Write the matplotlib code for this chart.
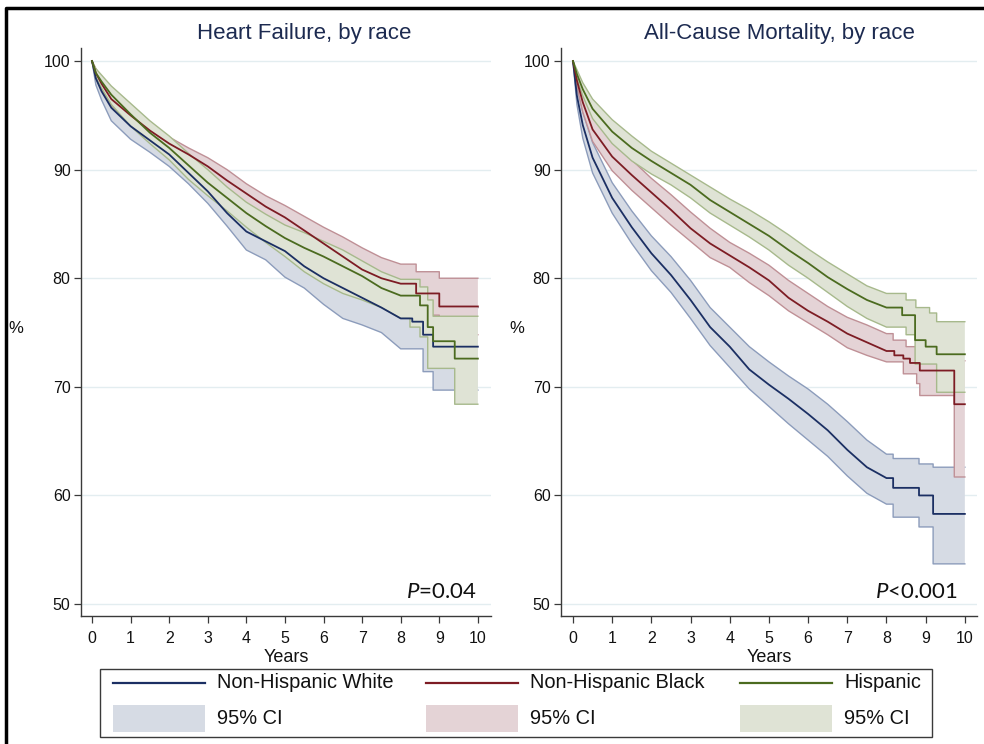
import numpy as np
import matplotlib.pyplot as plt
from matplotlib.lines import Line2D
from matplotlib.patches import Rectangle

plt.rcParams['font.family'] = ['Liberation Sans', 'DejaVu Sans']
plt.rcParams['mathtext.fontset'] = 'custom'
plt.rcParams['mathtext.it'] = 'Lato:italic'
plt.rcParams['mathtext.rm'] = 'Lato'

# common time grid (years); after 8 years each curve continues as explicit KM steps
years = [0, 0.1, 0.25, 0.5, 1, 1.5, 2, 2.5, 3, 3.5, 4, 4.5, 5, 5.5, 6, 6.5, 7, 7.5, 8]

# ---- Heart failure ----
hf_white = [100, 98.4, 97.2, 95.7, 94.0, 92.7, 91.4, 89.7, 88.0, 86.0, 84.3, 83.4, 82.5, 81.1, 80.0, 79.1, 78.2, 77.3, 76.3]
hf_white_tail = [(8.3, 76.0), (8.58, 74.8), (8.84, 73.7)]
hf_white_lo = [100, 97.8, 96.4, 94.5, 92.8, 91.6, 90.3, 88.7, 86.9, 84.8, 82.6, 81.7, 80.1, 79.1, 77.6, 76.3, 75.7, 75.0, 73.5]
hf_white_lo_tail = [(8.58, 71.4), (8.84, 69.7)]
hf_white_hi = [100, 99.0, 98.0, 96.8, 95.1, 93.8, 92.5, 90.8, 89.2, 87.3, 85.9, 85.1, 84.3, 83.0, 82.2, 81.2, 80.6, 79.7, 79.0]
hf_white_hi_tail = [(8.58, 78.0), (8.84, 77.3)]

hf_black = [100, 98.9, 97.9, 96.5, 95.0, 93.6, 92.4, 91.4, 90.3, 89.0, 87.8, 86.6, 85.6, 84.4, 83.2, 82.0, 80.8, 80.0, 79.5]
hf_black_tail = [(8.4, 78.6), (9.0, 77.4)]
hf_black_hi = [100, 99.3, 98.5, 97.1, 95.8, 94.4, 93.0, 92.0, 91.1, 90.0, 88.7, 87.6, 86.7, 85.7, 84.7, 83.8, 82.8, 81.9, 81.3]
hf_black_hi_tail = [(8.4, 80.6), (9.0, 80.0)]
hf_black_lo = [100, 98.5, 97.3, 95.9, 94.2, 92.8, 91.8, 90.8, 89.5, 88.0, 86.9, 85.6, 84.5, 83.1, 81.7, 80.2, 78.8, 78.1, 77.7]
hf_black_lo_tail = [(8.4, 76.6), (9.0, 74.8)]

hf_hisp = [100, 98.9, 98.1, 96.9, 95.1, 93.4, 92.0, 90.4, 88.8, 87.4, 86.0, 84.8, 83.7, 82.8, 82.0, 81.1, 80.2, 79.1, 78.4]
hf_hisp_tail = [(8.5, 77.5), (8.7, 75.5), (8.84, 74.2), (9.4, 72.6)]
hf_hisp_hi = [100, 99.3, 98.7, 97.7, 96.1, 94.5, 93.1, 91.5, 90.0, 88.4, 87.0, 85.9, 84.9, 84.2, 83.4, 82.6, 81.6, 80.6, 79.9]
hf_hisp_hi_tail = [(8.5, 79.2), (8.7, 78.0), (8.84, 76.5)]
hf_hisp_lo = [100, 98.5, 97.5, 96.0, 94.0, 92.4, 90.9, 89.1, 87.6, 86.2, 84.7, 83.3, 82.0, 80.6, 79.5, 78.6, 78.0, 77.3, 76.3]
hf_hisp_lo_tail = [(8.24, 75.5), (8.5, 74.6), (8.7, 71.7), (9.4, 68.4)]

# ---- All-cause mortality ----
acm_white = [100, 96.8, 94.1, 91.1, 87.4, 84.7, 82.3, 80.3, 78.0, 75.5, 73.7, 71.6, 70.2, 68.9, 67.5, 66.0, 64.2, 62.6, 61.6]
acm_white_tail = [(8.17, 60.7), (8.83, 60.0), (9.19, 58.3)]
acm_white_hi = [100, 97.6, 95.3, 92.5, 88.8, 86.2, 83.9, 82.0, 79.8, 77.3, 75.5, 73.7, 72.3, 71.0, 69.8, 68.4, 66.8, 65.1, 63.8]
acm_white_hi_tail = [(8.17, 63.4), (8.83, 62.9), (9.19, 62.6)]
acm_white_lo = [100, 96.0, 92.9, 89.7, 86.0, 83.2, 80.7, 78.7, 76.3, 73.8, 71.8, 69.8, 68.2, 66.6, 65.1, 63.6, 61.8, 60.2, 59.2]
acm_white_lo_tail = [(8.17, 58.0), (8.83, 57.1), (9.19, 53.7)]

acm_black = [100, 98.2, 96.2, 93.7, 91.2, 89.5, 87.9, 86.3, 84.6, 83.2, 82.1, 81.0, 79.8, 78.2, 77.0, 76.0, 74.9, 74.1, 73.3]
acm_black_tail = [(8.2, 72.9), (8.43, 72.6), (8.6, 72.2), (8.85, 71.5), (9.73, 68.4)]
acm_black_hi = [100, 98.7, 97.1, 94.9, 92.5, 90.9, 89.2, 87.7, 86.1, 84.6, 83.3, 82.3, 81.2, 79.8, 78.6, 77.4, 76.4, 75.7, 74.9]
acm_black_hi_tail = [(8.17, 74.3), (8.5, 73.7), (8.85, 72.4)]
acm_black_lo = [100, 97.7, 95.3, 92.6, 89.9, 88.1, 86.5, 84.9, 83.4, 81.9, 81.0, 79.6, 78.4, 77.0, 75.9, 74.8, 73.6, 72.9, 72.3]
acm_black_lo_tail = [(8.43, 71.2), (8.77, 70.3), (8.85, 69.2), (9.73, 61.7)]

acm_hisp = [100, 98.8, 97.4, 95.6, 93.5, 92.0, 90.8, 89.7, 88.6, 87.2, 86.1, 85.0, 83.9, 82.6, 81.4, 80.1, 79.0, 78.0, 77.3]
acm_hisp_tail = [(8.4, 76.6), (8.73, 74.3), (9.0, 73.7), (9.28, 73.0)]
acm_hisp_hi = [100, 99.2, 98.0, 96.5, 94.6, 93.1, 91.7, 90.6, 89.5, 88.4, 87.3, 86.3, 85.2, 84.0, 82.7, 81.5, 80.4, 79.3, 78.6]
acm_hisp_hi_tail = [(8.5, 78.0), (8.75, 77.3), (9.1, 76.8), (9.28, 76.0)]
acm_hisp_lo = [100, 98.4, 96.8, 94.7, 92.4, 90.8, 89.6, 88.6, 87.4, 86.0, 84.9, 83.8, 82.6, 81.2, 80.0, 78.7, 77.4, 76.3, 75.5]
acm_hisp_lo_tail = [(8.5, 74.8), (8.73, 72.1), (9.28, 69.5)]

groups = ["Non-Hispanic White", "Non-Hispanic Black", "Hispanic"]
line_colors = ["#1b2f63", "#7d1c24", "#4b6b1f"]
fill_colors = ["#d6dbe4", "#e4d3d6", "#dfe3d5"]
edge_colors = ["#8c9cbb", "#bf9096", "#a7b98c"]

W, H = 984, 744


def km(vals, tail, end=10):
    xs = list(years)
    ys = list(vals)
    for te, ve in tail:
        xs += [te, te]
        ys += [ys[-1], ve]
    xs.append(end)
    ys.append(ys[-1])
    return np.array(xs), np.array(ys)


def fx(px):
    return px / W


def fy(py):
    return 1 - py / H


fig = plt.figure(figsize=(9.84, 7.44), dpi=100)
ax1 = fig.add_axes([fx(81), fy(616), 410 / W, 568 / H])
ax2 = fig.add_axes([fx(561), fy(616), 416 / W, 568 / H])

panels = [
    (ax1, [(hf_white, hf_white_tail, hf_white_lo, hf_white_lo_tail, hf_white_hi, hf_white_hi_tail),
           (hf_black, hf_black_tail, hf_black_lo, hf_black_lo_tail, hf_black_hi, hf_black_hi_tail),
           (hf_hisp, hf_hisp_tail, hf_hisp_lo, hf_hisp_lo_tail, hf_hisp_hi, hf_hisp_hi_tail)],
     (-0.285, 10.34), "$P$=0.04", 9.97),
    (ax2, [(acm_white, acm_white_tail, acm_white_lo, acm_white_lo_tail, acm_white_hi, acm_white_hi_tail),
           (acm_black, acm_black_tail, acm_black_lo, acm_black_lo_tail, acm_black_hi, acm_black_hi_tail),
           (acm_hisp, acm_hisp_tail, acm_hisp_lo, acm_hisp_lo_tail, acm_hisp_hi, acm_hisp_hi_tail)],
     (-0.306, 10.31), "$P$<0.001", 9.82),
]

for ax, curves, xlim, ptxt, px in panels:
    for i, (est, est_t, lo, lo_t, hi, hi_t) in enumerate(curves):
        xl, yl = km(lo, lo_t)
        xh, yh = km(hi, hi_t)
        ax.fill(np.concatenate([xh, xl[::-1]]), np.concatenate([yh, yl[::-1]]),
                color=fill_colors[i], lw=0, zorder=2 + i)
        ax.plot(xl, yl, color=edge_colors[i], lw=1.0, zorder=2 + i)
        ax.plot(xh, yh, color=edge_colors[i], lw=1.0, zorder=2 + i)
    for i, (est, est_t, lo, lo_t, hi, hi_t) in enumerate(curves):
        xe, ye = km(est, est_t)
        ax.plot(xe, ye, color=line_colors[i], lw=1.3, zorder=6)

    ax.set_xlim(*xlim)
    ax.set_ylim(48.9, 101.2)
    ax.set_xticks(range(0, 11))
    ax.set_yticks(range(50, 101, 10))
    ax.yaxis.grid(True, color="#e3edf0", lw=1.0)
    ax.set_axisbelow(True)
    for s in ["top", "right"]:
        ax.spines[s].set_visible(False)
    for s in ["left", "bottom"]:
        ax.spines[s].set_color("#3a3a3a")
        ax.spines[s].set_linewidth(1.0)
    ax.tick_params(axis="both", length=5, width=0.9, color="#3a3a3a", labelsize=11.5, labelcolor="#111111")
    ax.tick_params(axis="y", pad=2.5)
    ax.tick_params(axis="x", pad=5.5)
    ax.set_xlabel("Years", fontsize=13, labelpad=2.5, color="#111111")
    ax.text(px, 50.6, ptxt, ha="right", va="baseline", fontsize=16, family="Lato", color="#111111")

fig.text(fx(304), fy(33), "Heart Failure, by race", ha="center", va="center", fontsize=16, color="#1c2a50")
fig.text(fx(779), fy(33), "All-Cause Mortality, by race", ha="center", va="center", fontsize=16, color="#1c2a50")
fig.text(fx(16), fy(328), "%", ha="center", va="center", fontsize=12, color="#111111")
fig.text(fx(517), fy(328), "%", ha="center", va="center", fontsize=12, color="#111111")

# legend box drawn by hand: three columns, line row on top and CI row below
fig.patches.append(Rectangle((fx(100), fy(737)), 832 / W, 68 / H, transform=fig.transFigure,
                             fill=False, edgecolor="#3a3a3a", lw=1.0))
col_x = [113, 426, 740]
for i in range(3):
    x0 = col_x[i]
    fig.lines.append(Line2D([fx(x0), fx(x0 + 92)], [fy(683), fy(683)], transform=fig.transFigure,
                            color=line_colors[i], lw=1.6))
    fig.patches.append(Rectangle((fx(x0), fy(732)), 92 / W, 27 / H, transform=fig.transFigure,
                                 facecolor=fill_colors[i], edgecolor="none"))
    fig.text(fx(x0 + 104), fy(683), groups[i], ha="left", va="center", fontsize=14.4, color="#111111")
    fig.text(fx(x0 + 104), fy(718), "95% CI", ha="left", va="center", fontsize=14.4, color="#111111")

# outer black frame (left and top edges visible)
fig.lines.append(Line2D([fx(6), fx(6), 1], [0, fy(8), fy(8)], transform=fig.transFigure,
                        color="black", lw=2.5))

fig.savefig("out.png", dpi=100)
